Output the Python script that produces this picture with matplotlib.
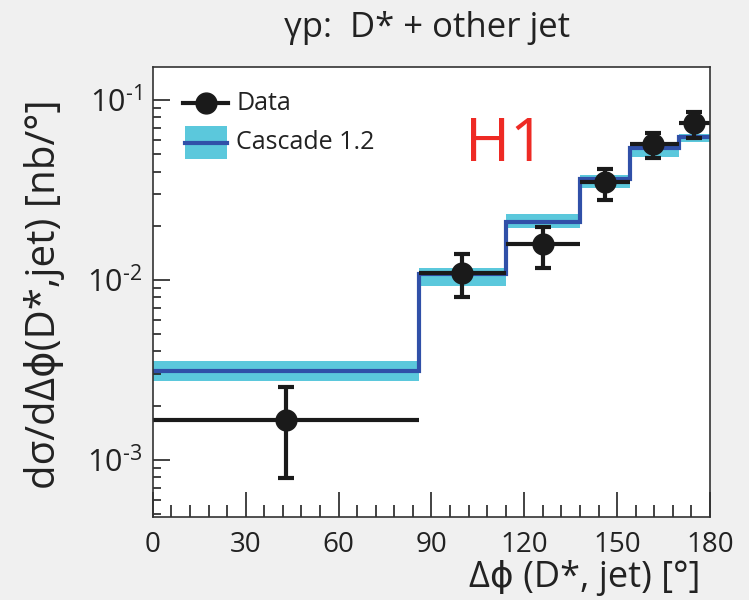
import matplotlib
matplotlib.use('Agg')
import matplotlib.pyplot as plt
from matplotlib.ticker import MultipleLocator, LogLocator, NullFormatter
import numpy as np

plt.rcParams['font.family'] = ['Open Sans', 'DejaVu Sans']
plt.rcParams['mathtext.fontset'] = 'custom'
plt.rcParams['mathtext.rm'] = 'Open Sans'

# bin edges in delta phi (degrees)
edges = [0, 86, 114, 138, 154, 170, 180]

# data points
data_x = [43, 100, 126, 146, 161.6, 174.8]
data_y = [1.67e-3, 1.09e-2, 1.58e-2, 3.5e-2, 5.7e-2, 7.45e-2]
data_up = [2.55e-3, 1.39e-2, 1.97e-2, 4.14e-2, 6.56e-2, 8.58e-2]
data_lo = [7.9e-4, 8.05e-3, 1.17e-2, 2.78e-2, 4.76e-2, 6.15e-2]

# cascade 1.2 prediction
casc = [3.12e-3, 1.08e-2, 2.1e-2, 3.64e-2, 5.41e-2, 6.22e-2]
casc_up = [3.55e-3, 1.17e-2, 2.33e-2, 3.83e-2, 5.6e-2, 6.45e-2]
casc_lo = [2.75e-3, 9.3e-3, 1.95e-2, 3.24e-2, 4.8e-2, 5.8e-2]

ytick_vals = [1e-3, 1e-2, 1e-1]
ytick_labels = ['$10^{\\text{-}3}$', '$10^{\\text{-}2}$', '$10^{\\text{-}1}$']

band_col = '#5bc8dc'
line_col = '#3050a8'

fig = plt.figure(figsize=(7.49, 6.0), dpi=100, facecolor='#f0f0f0')
ax = fig.add_axes([0.204, 0.138, 0.744, 0.750])

ax.stairs(casc_up, edges, baseline=casc_lo, fill=True, color=band_col, lw=0)
ax.stairs(casc, edges, baseline=None, color=line_col, lw=3)

lo_edge = np.array(edges[:-1])
hi_edge = np.array(edges[1:])
dx = np.array(data_x)
dy = np.array(data_y)
ax.errorbar(dx, dy, xerr=[dx - lo_edge, hi_edge - dx], fmt='none',
            ecolor='#1a1a1a', elinewidth=3, capsize=0)
ax.errorbar(dx, dy, yerr=[dy - np.array(data_lo), np.array(data_up) - dy],
            fmt='o', color='#1a1a1a', ms=15, elinewidth=3, capsize=6, capthick=3)

ax.set_yscale('log')
ax.set_xlim(0, 180)
ax.set_ylim(4.8e-4, 0.152)

ax.xaxis.set_major_locator(MultipleLocator(30))
ax.xaxis.set_minor_locator(MultipleLocator(6))
ax.yaxis.set_minor_locator(LogLocator(base=10, subs=np.arange(2, 10)))
ax.yaxis.set_minor_formatter(NullFormatter())
ax.set_yticks(ytick_vals)
ax.set_yticklabels(ytick_labels)

ax.tick_params(axis='both', which='both', direction='in', top=False, right=False,
               color='#222222', labelcolor='#222222')
ax.tick_params(axis='x', which='major', length=18, width=1.2, pad=10, labelsize=20)
ax.tick_params(axis='x', which='minor', length=9, width=1.2)
ax.tick_params(axis='y', which='major', length=12, width=1.2, pad=8, labelsize=22)
ax.tick_params(axis='y', which='minor', length=6, width=1.2)
for s in ax.spines.values():
    s.set_color('#333333')
    s.set_linewidth(1.2)

# legend drawn by hand in axes coords
ax.plot([0.055, 0.135], [0.92, 0.92], color='#1a1a1a', lw=3, transform=ax.transAxes)
ax.plot([0.095], [0.92], 'o', color='#1a1a1a', ms=15, transform=ax.transAxes)
ax.text(0.15, 0.92, 'Data', fontsize=18, va='center', color='#222222',
        transform=ax.transAxes)
ax.add_patch(plt.Rectangle((0.057, 0.795), 0.077, 0.075, color=band_col,
                           transform=ax.transAxes, lw=0))
ax.plot([0.057, 0.134], [0.832, 0.832], color=line_col, lw=3, transform=ax.transAxes)
ax.text(0.15, 0.832, 'Cascade 1.2', fontsize=18, va='center', color='#222222',
        transform=ax.transAxes)

ax.text(0.632, 0.827, 'H1', color='#ee2a24', fontsize=44, va='center', ha='center',
        transform=ax.transAxes)

fig.text(0.57, 0.953, 'γp:  D* + other jet', fontsize=25, ha='center', va='center',
         color='#222222')
fig.text(0.935, 0.036, 'Δϕ (D*, jet) [°]', fontsize=26, ha='right', va='center',
         color='#222222', family=['Open Sans', 'DejaVu Sans'])
fig.text(0.06, 0.51, 'dσ/dΔϕ(D*,jet) [nb/°]', fontsize=29, ha='center', va='center',
         rotation=90, color='#222222', family=['Open Sans', 'DejaVu Sans'])

fig.savefig('out.png', dpi=100, facecolor=fig.get_facecolor())
